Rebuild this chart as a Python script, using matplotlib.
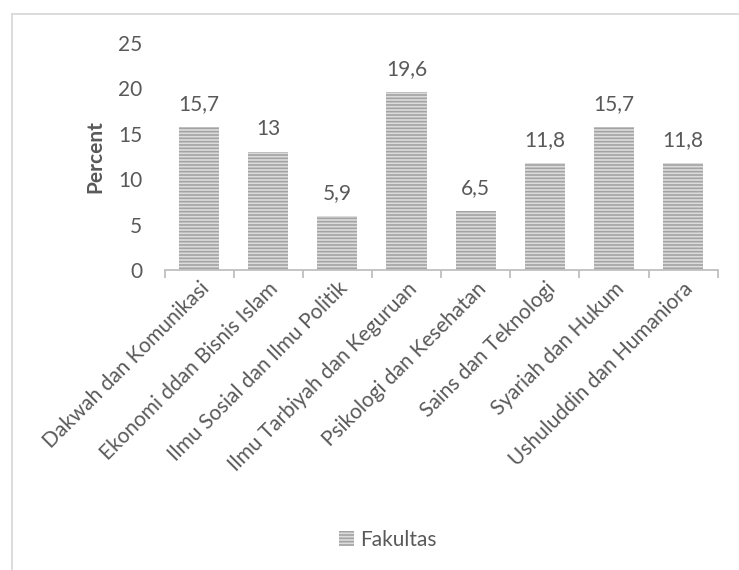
import numpy as np
import matplotlib.pyplot as plt
from matplotlib.lines import Line2D
from matplotlib.patches import Patch

fakultas = ['Dakwah dan Komunikasi', 'Ekonomi ddan Bisnis Islam',
            'Ilmu Sosial dan Ilmu Politik', 'Ilmu Tarbiyah dan Keguruan',
            'Psikologi dan Kesehatan', 'Sains dan Teknologi',
            'Syariah dan Hukum', 'Ushuluddin dan Humaniora']
percent = [15.7, 13, 5.9, 19.6, 6.5, 11.8, 15.7, 11.8]
yticks = [0, 5, 10, 15, 20, 25]

plt.rcParams['font.family'] = ['Lato', 'DejaVu Sans']
plt.rcParams['hatch.linewidth'] = 1.2
txt = '#595959'
fs = 15

fig = plt.figure(figsize=(7.39, 5.70), dpi=100)
ax = fig.add_axes([0.2226, 0.5263, 0.7485, 0.3982])

x = np.arange(len(fakultas))
bars = ax.bar(x, percent, width=0.58, color='#dcdcdc', edgecolor='#a3a3a3',
              linewidth=0, hatch='-----', label='Fakultas')

for xi, v in zip(x, percent):
    ax.text(xi, v + 1.9, f'{v:g}'.replace('.', ','), ha='center', va='baseline',
            fontsize=fs, color=txt)

ax.set_xlim(-0.5, len(fakultas) - 0.5)
ax.set_ylim(0, 25)
ax.set_yticks(yticks)
ax.set_yticklabels([str(t) for t in yticks], fontsize=fs, color=txt)
ax.tick_params(axis='y', length=0, pad=16)

ax.set_xticks(x)
ax.set_xticklabels(fakultas, rotation=45, ha='right', rotation_mode='anchor',
                   fontsize=fs, color=txt)
ax.set_xticks(np.arange(len(fakultas) + 1) - 0.5, minor=True)
ax.tick_params(axis='x', which='major', length=0, pad=6)
ax.tick_params(axis='x', which='minor', length=6, color='#bfbfbf', width=1.3)

for s in ['top', 'right', 'left']:
    ax.spines[s].set_visible(False)
ax.spines['bottom'].set_color('#bfbfbf')
ax.spines['bottom'].set_linewidth(1.3)

ax.set_ylabel('Percent', fontsize=fs, fontweight='bold', color=txt, labelpad=9)

handle = Patch(facecolor='#dcdcdc', edgecolor='#a3a3a3', linewidth=0, hatch='-----')
fig.legend([handle], ['Fakultas'], loc='center', bbox_to_anchor=(0.525, 0.053),
           frameon=False, fontsize=fs, labelcolor=txt, handlelength=0.7,
           handleheight=0.7, handletextpad=0.3)

# chart area border (top and left edges)
fig.add_artist(Line2D([0.0162, 0.0162], [0, 0.9754], transform=fig.transFigure,
                      color='#d9d9d9', linewidth=1.3))
fig.add_artist(Line2D([0.0162, 1.0], [0.9754, 0.9754], transform=fig.transFigure,
                      color='#d9d9d9', linewidth=1.3))

fig.savefig('out.png', dpi=100)
